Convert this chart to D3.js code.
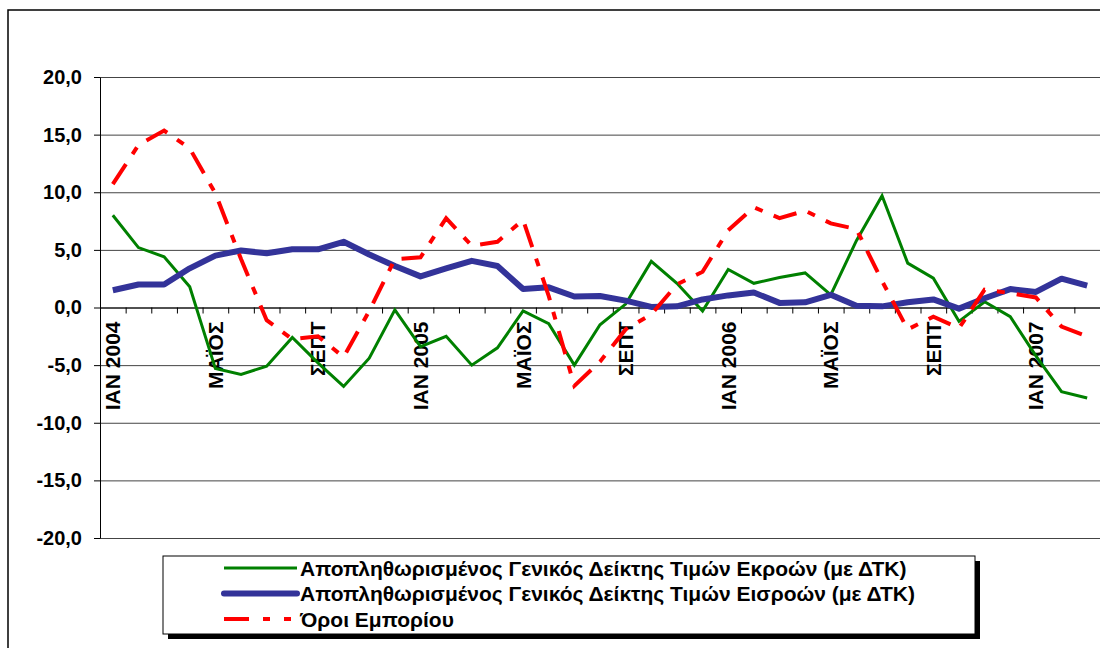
<!DOCTYPE html>
<html>
<head>
<meta charset="utf-8">
<script src="https://cdn.jsdelivr.net/npm/d3@7"></script>
<style>
  body { margin: 0; background: #fff; }
  text { font-family: "Liberation Sans", Arial, sans-serif; font-weight: bold; }
</style>
</head>
<body>
<div id="chart"></div>
<script>
/* D3 Line Chart - three index series, Jan 2004 - Mar 2007 */

// month labels: only every 4th month is written on the axis
const months = [
  "ΙΑΝ 2004", "", "", "", "ΜΑΪΟΣ", "", "", "", "ΣΕΠΤ", "", "", "",
  "ΙΑΝ 2005", "", "", "", "ΜΑΪΟΣ", "", "", "", "ΣΕΠΤ", "", "", "",
  "ΙΑΝ 2006", "", "", "", "ΜΑΪΟΣ", "", "", "", "ΣΕΠΤ", "", "", "",
  "ΙΑΝ 2007", "", ""
];

// Αποπληθωρισμένος Γενικός Δείκτης Τιμών Εκροών
const outputs = [8.0, 5.2, 4.4, 1.8, -5.3, -5.8, -5.1, -2.6, -4.8, -6.85, -4.4, -0.2,
  -3.4, -2.5, -5.0, -3.5, -0.3, -1.4, -5.0, -1.5, 0.3, 4.0, 2.1, -0.3,
  3.3, 2.1, 2.6, 3.0, 1.1, 5.8, 9.7, 3.85, 2.55, -1.2, 0.5, -0.8,
  -4.2, -7.3, -7.85];

// Αποπληθωρισμένος Γενικός Δείκτης Τιμών Εισροών
const inputs = [1.5, 2.0, 2.0, 3.4, 4.5, 4.95, 4.7, 5.05, 5.05, 5.7, 4.6, 3.6,
  2.7, 3.4, 4.05, 3.6, 1.6, 1.75, 0.95, 1.0, 0.6, 0.05, 0.1, 0.7,
  1.05, 1.3, 0.4, 0.45, 1.1, 0.15, 0.1, 0.45, 0.7, -0.1, 0.8, 1.6,
  1.35, 2.5, 1.9];

// Όροι Εμπορίου
const terms = [10.7, 14.1, 15.35, 13.8, 9.9, 4.2, -1.1, -2.75, -2.5, -4.3, -0.3, 4.2,
  4.35, 7.75, 5.35, 5.7, 7.6, 1.0, -6.8, -4.7, -1.9, -0.6, 2.0, 3.1,
  6.7, 8.7, 7.75, 8.4, 7.3, 6.8, 2.3, -1.9, -0.8, -1.8, 1.55, 1.25,
  0.87, -1.65, -2.5];

const yTicks = [-20, -15, -10, -5, 0, 5, 10, 15, 20];

const seriesNames = [
  "Αποπληθωρισμένος Γενικός Δείκτης Τιμών Εκροών (με ΔΤΚ)",
  "Αποπληθωρισμένος Γενικός Δείκτης Τιμών Εισροών (με ΔΤΚ)",
  "Όροι Εμπορίου"
];

const height = 648,
    width = 1100,
    margin = ({ top: 77, right: 0, bottom: 110, left: 100 });

const svg = d3.select("#chart")
    .append("svg")
    .attr("width", width)
    .attr("height", height)
    .attr("viewBox", [0, 0, width, height]);

// outer chart frame (runs off the right and bottom edge)
svg.append("rect")
    .attr("x", 8).attr("y", 10)
    .attr("width", width + 20).attr("height", height + 20)
    .attr("fill", "#fff")
    .attr("stroke", "#000")
    .attr("stroke-width", 1.5);

const locale = d3.formatLocale({ decimal: ",", thousands: ".", grouping: [3], currency: ["", "€"], minus: "-" });
const fmt = locale.format(".1f");

let idx = d3.range(months.length);

let x = d3.scaleBand()
    .domain(idx)
    .range([margin.left, width - margin.right])
    .padding(0);

let xEdge = d3.scaleLinear() // band boundaries, for the tick marks
    .domain([0, months.length])
    .range([margin.left, width - margin.right]);

let y = d3.scaleLinear()
    .domain([-20, 20])
    .range([height - margin.bottom, margin.top]);

const cx = i => x(i) + x.bandwidth() / 2;

// horizontal gridlines
svg.append("g")
    .attr("transform", `translate(${margin.left},0)`)
    .call(d3.axisLeft(y).tickValues(yTicks).tickFormat("").tickSize(-(width - margin.left)))
    .call(g => g.select(".domain").remove())
    .call(g => g.selectAll("line").attr("stroke", "#444"));

// y axis with labels
svg.append("g")
    .attr("transform", `translate(${margin.left},0)`)
    .call(d3.axisLeft(y).tickValues(yTicks).tickFormat(fmt).tickSize(6).tickPadding(12).tickSizeOuter(0))
    .call(g => g.selectAll("text").attr("font-size", 20).attr("font-family", null).attr("fill", "#000"))
    .call(g => g.selectAll("line, path").attr("stroke", "#000"));

// x axis along zero, ticks between months
svg.append("g")
    .attr("transform", `translate(0,${y(0)})`)
    .call(d3.axisBottom(xEdge).tickValues(d3.range(1, months.length)).tickFormat("").tickSize(6).tickSizeOuter(0))
    .call(g => g.selectAll("line, path").attr("stroke", "#000"));

svg.append("g")
    .selectAll("text")
    .data(idx.filter(i => months[i] !== ""))
    .join("text")
    .attr("transform", i => `translate(${cx(i) + 7.5},${y(0) + 14}) rotate(-90)`)
    .attr("text-anchor", "end")
    .attr("font-size", 21)
    .text(i => months[i]);

// lines
let line = d3.line()
    .x((d, i) => cx(i))
    .y(d => y(d));

svg.append("path")
    .datum(outputs)
    .attr("d", line)
    .attr("fill", "none")
    .attr("stroke", "#008000")
    .attr("stroke-width", 3);

svg.append("path")
    .datum(inputs)
    .attr("d", line)
    .attr("fill", "none")
    .attr("stroke", "#333399")
    .attr("stroke-width", 6)
    .attr("stroke-linejoin", "round");

svg.append("path")
    .datum(terms)
    .attr("d", line)
    .attr("fill", "none")
    .attr("stroke", "#ff0000")
    .attr("stroke-width", 4)
    .attr("stroke-dasharray", "24,12,8,12");

// legend
const lg = svg.append("g");

lg.append("rect")
    .attr("x", 168).attr("y", 561)
    .attr("width", 812).attr("height", 78)
    .attr("fill", "#000");

lg.append("rect")
    .attr("x", 163).attr("y", 556)
    .attr("width", 812).attr("height", 78)
    .attr("fill", "#fff")
    .attr("stroke", "#000")
    .attr("stroke-width", 1);

const legendStyle = [
  { color: "#008000", w: 3, dash: null },
  { color: "#333399", w: 6, dash: null },
  { color: "#ff0000", w: 4, dash: "25,14,7,14,7,14" }
];

seriesNames.forEach((name, i) => {
    let ly = 568 + i * 25.5;
    lg.append("line")
      .attr("x1", 224).attr("x2", 297)
      .attr("y1", ly).attr("y2", ly)
      .attr("stroke", legendStyle[i].color)
      .attr("stroke-width", legendStyle[i].w)
      .attr("stroke-linecap", i === 1 ? "round" : "butt")
      .attr("stroke-dasharray", legendStyle[i].dash);
    lg.append("text")
      .attr("x", 300)
      .attr("y", ly + 7.5)
      .attr("font-size", 21)
      .text(name);
});
</script>
</body>
</html>
